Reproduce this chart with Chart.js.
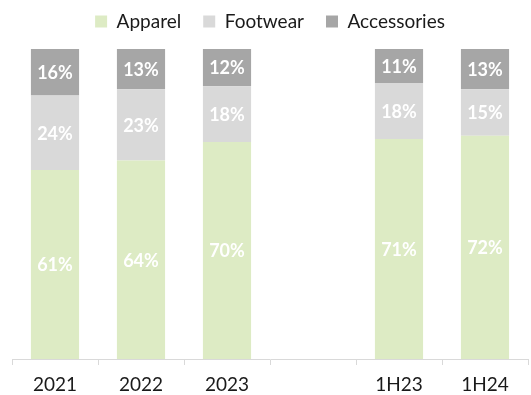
<!DOCTYPE html>
<html>
<head>
<meta charset="utf-8">
<script src="https://cdn.jsdelivr.net/npm/chart.js@4/dist/chart.umd.min.js"></script>
<style>
  html, body { margin: 0; padding: 0; background: #fff; }
  #wrap { width: 531px; height: 395px; }
</style>
</head>
<body>
<div id="wrap"><canvas id="mix"></canvas></div>
<script>
const periods = ['2021', '2022', '2023', '', '1H23', '1H24'];
const apparel = [61, 64, 70, null, 71, 72];
const footwear = [24, 23, 18, null, 18, 15];
const accessories = [16, 13, 12, null, 11, 13];

const FONT = 'Lato, "Open Sans", sans-serif';

// white percentage labels centred in each stacked segment
const segmentLabels = {
  id: 'segmentLabels',
  afterDatasetsDraw(chart) {
    const ctx = chart.ctx;
    ctx.save();
    ctx.fillStyle = '#ffffff';
    ctx.font = 'bold 18px ' + FONT;
    ctx.textAlign = 'center';
    ctx.textBaseline = 'middle';
    chart.data.datasets.forEach((ds, i) => {
      chart.getDatasetMeta(i).data.forEach((bar, j) => {
        const v = ds.data[j];
        if (v == null) return;
        const top = Math.max(bar.y, chart.chartArea.top);
        ctx.fillText(v + '%', bar.x, (top + bar.base) / 2 + 1);
      });
    });
    ctx.restore();
  }
};

// a bit of extra room between the legend row and the bars
const legendGap = {
  id: 'legendGap',
  beforeLayout(chart) {
    const legend = chart.legend;
    if (!legend || legend._gapPatched) return;
    const fit = legend.fit;
    legend.fit = function () {
      fit.call(this);
      this.height += 8;
    };
    legend._gapPatched = true;
  }
};

new Chart(document.getElementById('mix'), {
  type: 'bar',
  data: {
    labels: periods,
    datasets: [
      { label: 'Apparel', data: apparel, backgroundColor: '#ddebc4' },
      { label: 'Footwear', data: footwear, backgroundColor: '#d9d9d9' },
      { label: 'Accessories', data: accessories, backgroundColor: '#a6a6a6' }
    ]
  },
  options: {
    responsive: true,
    maintainAspectRatio: false,
    animation: false,
    layout: { padding: { left: 12, right: 3, top: -10, bottom: -9 } },
    datasets: { bar: { categoryPercentage: 0.56, barPercentage: 1 } },
    plugins: {
      legend: {
        position: 'top',
        labels: {
          boxWidth: 12,
          boxHeight: 12,
          padding: 22,
          color: '#1a1a1a',
          font: { family: FONT, size: 19 }
        }
      },
      tooltip: { enabled: false }
    },
    scales: {
      x: {
        stacked: true,
        grid: { drawOnChartArea: false, drawTicks: true, tickLength: 6, color: '#d9d9d9' },
        border: { display: true, color: '#d9d9d9' },
        ticks: { color: '#1a1a1a', font: { family: FONT, size: 19, lineHeight: 1 }, padding: 10 }
      },
      y: {
        stacked: true,
        display: false,
        min: 0,
        max: 100
      }
    }
  },
  plugins: [segmentLabels, legendGap]
});
</script>
</body>
</html>
